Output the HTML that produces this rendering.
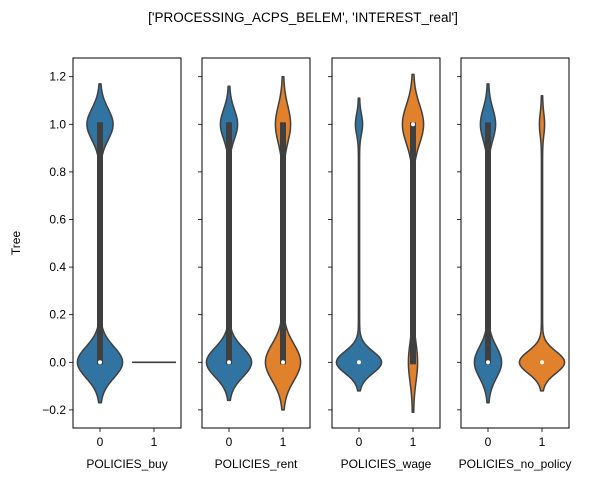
<!DOCTYPE html>
<html><head><meta charset="utf-8"><style>
body{margin:0;background:#fff}
svg{display:block;font-family:"Liberation Sans","DejaVu Sans",sans-serif}
</style></head><body>
<svg id="chart" width="592" height="481">
<text x="303" y="22" text-anchor="middle" font-size="13.5">['PROCESSING_ACPS_BELEM', 'INTEREST_real']</text>
<text transform="translate(20,243) rotate(-90)" text-anchor="middle" font-size="12">Tree</text>
</svg>
<script>
const panelLabels = ["POLICIES_buy","POLICIES_rent","POLICIES_wage","POLICIES_no_policy"];
const categories = ["0","1"];
const yTicks = [-0.2,0,0.2,0.4,0.6,0.8,1.0,1.2];
const width0 = [22,0, 22,17, 22,4, 13,22];
const width1 = [12.5,0, 8,7, 3,10, 7,2];
const yMin = [-0.17,0, -0.16,-0.2, -0.12,-0.21, -0.17,-0.12];
const yMax = [1.17,0, 1.16,1.2, 1.11,1.21, 1.17,1.12];
const q1 = [0,0, 0,0, 0,0, 0,0];
const q3 = [1,0, 1,1, 0,1, 1,0];
const medians = [0,0, 0,0, 0,1, 0,0];
const colors = ["#3274a1","#e1812c"];

const svg = document.getElementById('chart');
const NS = "http://www.w3.org/2000/svg";
const panelX = [73,202,332,461], panelW = 108, plotTop = 58, plotBottom = 428;
function y(v){ return 362.3 - v*238; }
function mk(tag, attrs, parent){ const e=document.createElementNS(NS,tag); for(const k in attrs) e.setAttribute(k,attrs[k]); (parent||svg).appendChild(e); return e; }

panelLabels.forEach((lab,p)=>{
  const x0 = panelX[p];
  const g = mk('g',{});
  
  
  const xc = i => x0 + panelW*(0.25+0.5*i);
  categories.forEach((c,i)=>{
    const k = p*2+i, cx = xc(i);
    if (width0[k]===0 && width1[k]===0){
      const l = mk('line',{x1:cx-22,x2:cx+22,y1:y(medians[k]),y2:y(medians[k]),stroke:'#3f3f3f','stroke-width':1.6},g);
      
      
      return;
    }
    const s0 = Math.max(0.03, -yMin[k]/2.6), s1 = Math.max(0.03,(yMax[k]-1)/2.6);
    const pts = [];
    const N=200;
    for(let j=0;j<=N;j++){
      const v = yMin[k] + (yMax[k]-yMin[k])*j/N;
      const w = width0[k]*Math.exp(-v*v/(2*s0*s0)) + width1[k]*Math.exp(-(v-1)*(v-1)/(2*s1*s1)) + 0.6;
      pts.push([v,w]);
    }
    let d = '';
    pts.forEach((q,j)=>{ d += (j?'L':'M')+(cx+q[1]).toFixed(2)+','+y(q[0]).toFixed(2); });
    for(let j=pts.length-1;j>=0;j--){ d += 'L'+(cx-pts[j][1]).toFixed(2)+','+y(pts[j][0]).toFixed(2); }
    d+='Z';
    const vp = mk('path',{d:d,fill:colors[i],stroke:'#3f3f3f','stroke-width':1.5,'stroke-linejoin':'round'},g);
    
    
    if (q3[k]>q1[k]){
      const b = mk('rect',{x:cx-3,y:y(q3[k])-2,width:6,height:y(q1[k])-y(q3[k])+4,fill:'#3f3f3f'},g);
      
      
    }
    const m = mk('circle',{cx:cx,cy:y(medians[k]),r:2,fill:'#fff'},g);
    
    
  });
  const fr = mk('rect',{x:x0,y:plotTop,width:panelW,height:plotBottom-plotTop,fill:'none',stroke:'#000','stroke-width':1},g);
  
  
  yTicks.forEach(t=>{
    mk('line',{x1:x0-4,x2:x0,y1:y(t),y2:y(t),stroke:'#000','stroke-width':0.8},g);
    if(p===0){
      const tl = mk('text',{x:x0-7,y:y(t)+4,'text-anchor':'end','font-size':12},g);
      tl.textContent = (t<0?'\u2212':'')+Math.abs(t).toFixed(1);
      
      
    }
  });
  categories.forEach((c,i)=>{
    mk('line',{x1:xc(i),x2:xc(i),y1:plotBottom,y2:plotBottom+4,stroke:'#000','stroke-width':0.8},g);
    const tl = mk('text',{x:xc(i),y:plotBottom+18,'text-anchor':'middle','font-size':12},g);
    tl.textContent = c;
    
    
  });
  const xl = mk('text',{x:x0+panelW/2,y:plotBottom+40,'text-anchor':'middle','font-size':12},g);
  xl.textContent = lab;
  
  
});
</script>
</body></html>
